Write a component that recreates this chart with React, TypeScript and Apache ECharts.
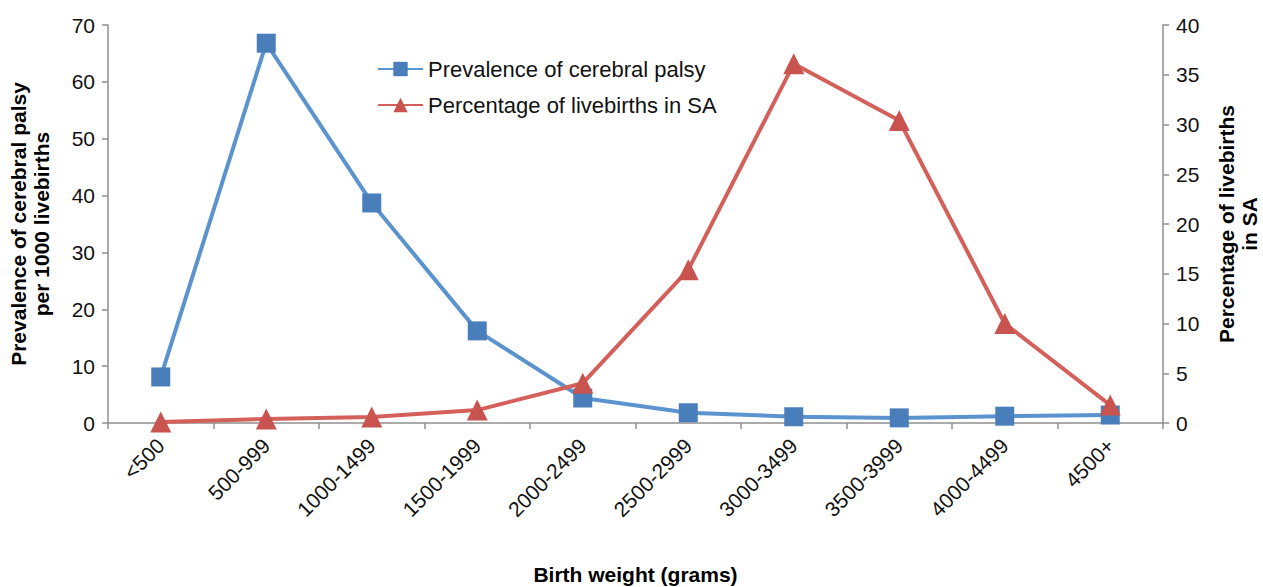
import React, { useEffect, useRef } from "react";
import * as echarts from "echarts";

const categories = ["<500", "500-999", "1000-1499", "1500-1999", "2000-2499", "2500-2999", "3000-3499", "3500-3999", "4000-4499", "4500+"];
const prevalence = [8.1, 66.8, 38.7, 16.2, 4.4, 1.8, 1.1, 0.9, 1.2, 1.4];
const livebirths = [0.1, 0.4, 0.6, 1.3, 4.0, 15.4, 36.1, 30.4, 10.0, 1.8];
const leftTicks = { min: 0, max: 70, interval: 10 };
const rightTicks = { min: 0, max: 40, interval: 5 };

const FONT = "'Liberation Sans', Arial, Helvetica, sans-serif";
const AXIS_COLOR = "#8f8f8f";

export default function App() {
  const ref = useRef<HTMLDivElement>(null);
  useEffect(() => {
    if (!ref.current) return;
    const chart = echarts.init(ref.current, null, { renderer: "svg" });
    const axisCommon = {
      axisLine: { show: true, lineStyle: { color: AXIS_COLOR, width: 1.5 } },
      axisTick: { show: true, length: 6, lineStyle: { color: AXIS_COLOR, width: 1.5 } },
      splitLine: { show: false },
      axisLabel: { color: "#111", fontSize: 21, fontFamily: FONT, margin: 13 },
      nameTextStyle: { color: "#000", fontSize: 21, fontWeight: "bold", fontFamily: FONT, lineHeight: 23 },
    };
    chart.setOption({
      animation: false,
      backgroundColor: "#fff",
      textStyle: { fontFamily: FONT },
      grid: { left: 108, right: 100, top: 25, bottom: 164, containLabel: false, outerBoundsMode: "none" },
      legend: {
        orient: "vertical",
        left: 372,
        top: 53,
        itemWidth: 45,
        itemHeight: 18,
        itemGap: 14,
        textStyle: { fontSize: 22, color: "#111", fontFamily: FONT },
        data: ["Prevalence of cerebral palsy", "Percentage of livebirths in SA"],
      },
      xAxis: {
        type: "category",
        data: categories,
        boundaryGap: true,
        ...axisCommon,
        axisTick: { show: true, length: 6, alignWithLabel: false, lineStyle: { color: AXIS_COLOR, width: 1.5 } },
        axisLabel: { ...axisCommon.axisLabel, rotate: 45, interval: 0, margin: 19 },
        name: "Birth weight (grams)",
        nameLocation: "middle",
        nameGap: 141,
        nameTextStyle: { color: "#000", fontSize: 21, fontWeight: "bold", fontFamily: FONT },
      },
      yAxis: [
        {
          type: "value",
          position: "left",
          ...leftTicks,
          ...axisCommon,
          name: "Prevalence of cerebral palsy\nper 1000 livebirths",
          nameLocation: "middle",
          nameRotate: 90,
          nameGap: 55,
        },
        {
          type: "value",
          position: "right",
          ...rightTicks,
          ...axisCommon,
          name: "Percentage of livebirths\nin SA",
          nameLocation: "middle",
          nameRotate: 90,
          nameGap: 52,
        },
      ],
      series: [
        {
          name: "Prevalence of cerebral palsy",
          type: "line",
          yAxisIndex: 0,
          data: prevalence,
          symbol: "rect",
          symbolSize: 19,
          lineStyle: { color: "#5b93cf", width: 4 },
          itemStyle: { color: "#4a7ebb" },
          z: 3,
        },
        {
          name: "Percentage of livebirths in SA",
          type: "line",
          yAxisIndex: 1,
          data: livebirths,
          symbol: "triangle",
          symbolSize: 21,
          lineStyle: { color: "#d3605a", width: 4 },
          itemStyle: { color: "#c9544f" },
          z: 4,
        },
      ],
    });
    return () => chart.dispose();
  }, []);
  return <div ref={ref} style={{ position: "fixed", left: 0, top: 0, width: 1263, height: 587 }} />;
}
